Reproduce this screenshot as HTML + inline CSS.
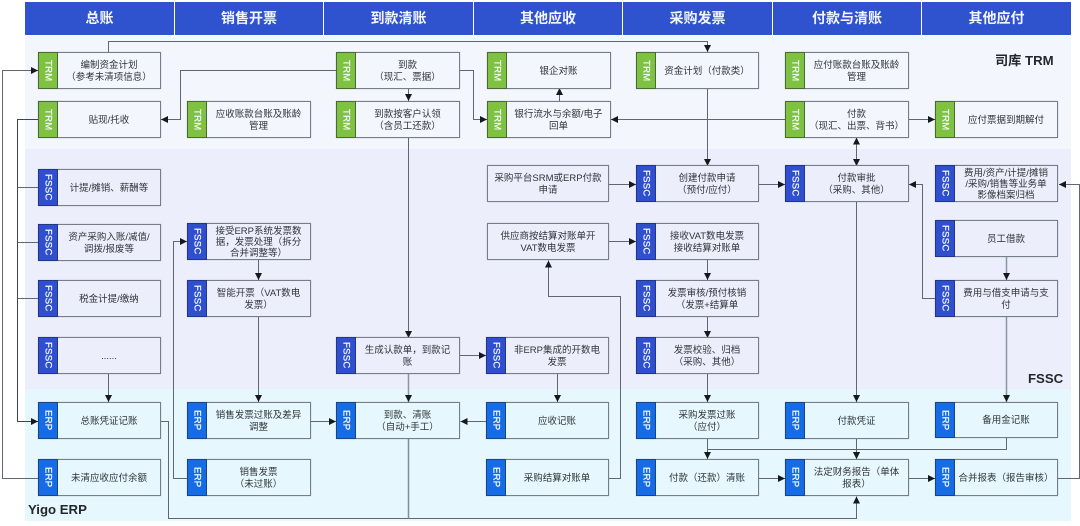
<!DOCTYPE html>
<html lang="zh-CN">
<head>
<meta charset="utf-8">
<title>财务流程图</title>
<style>
html,body{margin:0;padding:0;background:#fff}
#c{position:relative;width:1080px;height:526px;overflow:hidden;background:#fff;font-family:"Liberation Sans","Noto Sans CJK SC",sans-serif;color:#2f333a;filter:blur(.3px)}
.band,.h,.n,.lb,svg{position:absolute}
.h{top:2px;height:33px;background:#2f52cf;color:#f4f6ff;font-size:14px;font-weight:700;line-height:33px;text-align:center}
.n{box-sizing:border-box;border:1px solid #747d88;box-shadow:0 0 .6px #747d88;display:flex;align-items:center;font-size:9.5px;line-height:11.2px;text-align:center;white-space:nowrap}
.n b{flex:0 0 18px;align-self:stretch;display:flex;align-items:center;justify-content:center;color:#f2f8ff;font-size:9.5px;font-weight:400;-webkit-text-stroke:.25px #f2f8ff;writing-mode:vertical-rl;margin:-1px 0 -1px -1px;border:1px solid #3a4a55;box-sizing:content-box;letter-spacing:.3px}
.n span{flex:1;padding-top:2px}
.t b{background:#7fc241;border-color:#4a6a35}
.f b{background:#2f4fcf;border-color:#22358a}
.e b{background:#166ce6;border-color:#1a4585}
.lb{font-size:13.200px;font-weight:700;color:#23272e;white-space:nowrap}
svg{left:0;top:0}
</style>
</head>
<body>
<div id="c">
<div class="band" style="left:25px;top:36px;width:1046px;height:113px;background:#f3f6fc"></div>
<div class="band" style="left:25px;top:149px;width:1046px;height:240px;background:#eceffb"></div>
<div class="band" style="left:25px;top:389px;width:1046px;height:132px;background:#e6f8fe"></div>

<div class="h" style="left:25px;width:149px">总账</div>
<div class="h" style="left:175px;width:148px">销售开票</div>
<div class="h" style="left:324px;width:149px">到款清账</div>
<div class="h" style="left:474px;width:148px">其他应收</div>
<div class="h" style="left:623px;width:149px">采购发票</div>
<div class="h" style="left:773px;width:148px">付款与清账</div>
<div class="h" style="left:922px;width:149px">其他应付</div>

<svg width="1080" height="526" viewBox="0 0 1080 526" fill="none" stroke="#5f6772" stroke-width="1">
<defs>
<marker id="a" markerUnits="userSpaceOnUse" markerWidth="8" markerHeight="8" refX="7" refY="4" orient="auto-start-reverse"><path d="M0 .5L7 4L0 7.5z" fill="#15181d" stroke="none"/></marker>
</defs>
<g marker-end="url(#a)">
<path d="M108.500 52V41.500H707.500V52"/>
<path d="M336 70.500H180.500V119.500H161"/>
<path d="M460 70.500H473.500V119.500H487"/>
<path d="M408.500 88V101"/>
<path d="M559.500 101V88"/>
<path d="M785 119.500H611"/>
<path d="M908 119.500H935"/>
<path d="M856.500 137.500V166" marker-start="url(#a)"/>
<path d="M707.500 88V166"/>
<path d="M408.500 137V338"/>
<path d="M609 184.500H636"/>
<path d="M759 184.500H785"/>
<path d="M609 241.500H636"/>
<path d="M707.500 260V280"/>
<path d="M707.500 317V338"/>
<path d="M707.500 374V402"/>
<path d="M707.500 439V459"/>
<path d="M856.500 202V402"/>
<path d="M935 298.500H922.500V184.500H909"/>
<path d="M1006.500 257V280" stroke="#8d95a3" stroke-width="1.500"/>
<path d="M1006.500 317V402" stroke="#8d95a3" stroke-width="1.500"/>
<path d="M1058 478.500H1079.500V184.500H1059"/>
<path d="M1006.500 438V449.500H856.500V459"/>
<path d="M856.500 439V459"/>
<path d="M759 478.500H785"/>
<path d="M908 478.500H935"/>
<path d="M160 421.500H168.500V518.500H856.500V496.500"/>
<path d="M609 478.500H620.500V296.500H548.500V260.500"/>
<path d="M486 421.500H460.500"/>
<path d="M557.500 374V402"/>
<path d="M460 355.500H486"/>
<path d="M408.500 374V402" stroke="#8d95a3" stroke-width="1.500"/>
<path d="M310 421.500H336"/>
<path d="M187 478.500H173.500V241.500H187"/>
<path d="M258.500 260V280"/>
<path d="M258.500 317V402"/>
<path d="M108.500 374V402"/>
<path d="M38 478.500H2.500V70.500H38"/>
<path d="M38 119.500H17.500V421.500H38" stroke="#3f444c"/>
</g>
<path d="M408.500 439V518.500" stroke="#7f8f98" stroke-width="1.500"/>
<path d="M856.500 449.500H707.500"/>
<path d="M17.500 187.500H38M17.500 242.500H38M17.500 298.500H38"/>
</svg>

<div class="n t" style="left:38px;top:52px;width:123px;height:37px"><b>TRM</b><span>编制资金计划<br>（参考未清项信息）</span></div>
<div class="n t" style="left:38px;top:101px;width:123px;height:37px"><b>TRM</b><span>贴现/托收</span></div>
<div class="n t" style="left:187px;top:101px;width:124px;height:37px"><b>TRM</b><span>应收账款台账及账龄<br>管理</span></div>
<div class="n t" style="left:336px;top:52px;width:124px;height:37px"><b>TRM</b><span>到款<br>（现汇、票据）</span></div>
<div class="n t" style="left:336px;top:101px;width:124px;height:37px"><b>TRM</b><span>到款按客户认领<br>（含员工还款）</span></div>
<div class="n t" style="left:487px;top:52px;width:124px;height:37px"><b>TRM</b><span>银企对账</span></div>
<div class="n t" style="left:487px;top:101px;width:124px;height:37px"><b>TRM</b><span>银行流水与余额/电子<br>回单</span></div>
<div class="n t" style="left:636px;top:52px;width:123px;height:37px"><b>TRM</b><span>资金计划（付款类）</span></div>
<div class="n t" style="left:785px;top:52px;width:124px;height:37px"><b>TRM</b><span>应付账款台账及账龄<br>管理</span></div>
<div class="n t" style="left:785px;top:101px;width:124px;height:37px"><b>TRM</b><span>付款<br>（现汇、出票、背书）</span></div>
<div class="n t" style="left:935px;top:101px;width:123px;height:37px"><b>TRM</b><span>应付票据到期解付</span></div>

<div class="n f" style="left:38px;top:169px;width:123px;height:37px"><b>FSSC</b><span>计提/摊销、薪酬等</span></div>
<div class="n f" style="left:38px;top:224px;width:123px;height:37px"><b>FSSC</b><span>资产采购入账/减值/<br>调拨/报废等</span></div>
<div class="n f" style="left:38px;top:280px;width:123px;height:37px"><b>FSSC</b><span>税金计提/缴纳</span></div>
<div class="n f" style="left:38px;top:337px;width:123px;height:37px"><b>FSSC</b><span>......</span></div>
<div class="n f" style="left:187px;top:223px;width:124px;height:37px"><b>FSSC</b><span>接受ERP系统发票数<br>据，发票处理（拆分<br>合并调整等）</span></div>
<div class="n f" style="left:187px;top:280px;width:124px;height:37px"><b>FSSC</b><span>智能开票（VAT数电<br>发票）</span></div>
<div class="n f" style="left:336px;top:337px;width:124px;height:37px"><b>FSSC</b><span>生成认款单，到款记<br>账</span></div>
<div class="n" style="left:487px;top:165px;width:122px;height:37px"><span>采购平台SRM或ERP付款<br>申请</span></div>
<div class="n" style="left:487px;top:223px;width:122px;height:37px"><span>供应商按结算对账单开<br>VAT数电发票</span></div>
<div class="n f" style="left:486px;top:337px;width:123px;height:37px"><b>FSSC</b><span>非ERP集成的开数电<br>发票</span></div>
<div class="n f" style="left:636px;top:165px;width:123px;height:37px"><b>FSSC</b><span>创建付款申请<br>（预付/应付）</span></div>
<div class="n f" style="left:636px;top:223px;width:123px;height:37px"><b>FSSC</b><span>接收VAT数电发票<br>接收结算对账单</span></div>
<div class="n f" style="left:636px;top:280px;width:123px;height:37px"><b>FSSC</b><span>发票审核/预付核销<br>（发票+结算单</span></div>
<div class="n f" style="left:636px;top:337px;width:123px;height:37px"><b>FSSC</b><span>发票校验、归档<br>（采购、其他）</span></div>
<div class="n f" style="left:785px;top:165px;width:124px;height:37px"><b>FSSC</b><span>付款审批<br>（采购、其他）</span></div>
<div class="n f" style="left:935px;top:165px;width:123px;height:37px"><b>FSSC</b><span>费用/资产/计提/摊销<br>/采购/销售等业务单<br>影像档案归档</span></div>
<div class="n f" style="left:935px;top:220px;width:123px;height:37px"><b>FSSC</b><span>员工借款</span></div>
<div class="n f" style="left:935px;top:280px;width:123px;height:37px"><b>FSSC</b><span>费用与借支申请与支<br>付</span></div>

<div class="n e" style="left:38px;top:402px;width:123px;height:37px"><b>ERP</b><span>总账凭证记账</span></div>
<div class="n e" style="left:38px;top:459px;width:123px;height:37px"><b>ERP</b><span>未清应收应付余额</span></div>
<div class="n e" style="left:187px;top:402px;width:124px;height:37px"><b>ERP</b><span>销售发票过账及差异<br>调整</span></div>
<div class="n e" style="left:187px;top:459px;width:124px;height:37px"><b>ERP</b><span>销售发票<br>（未过账）</span></div>
<div class="n e" style="left:336px;top:402px;width:124px;height:37px"><b>ERP</b><span>到款、清账<br>（自动+手工）</span></div>
<div class="n e" style="left:486px;top:402px;width:123px;height:37px"><b>ERP</b><span>应收记账</span></div>
<div class="n e" style="left:486px;top:459px;width:123px;height:37px"><b>ERP</b><span>采购结算对账单</span></div>
<div class="n e" style="left:636px;top:402px;width:123px;height:37px"><b>ERP</b><span>采购发票过账<br>（应付）</span></div>
<div class="n e" style="left:636px;top:459px;width:123px;height:37px"><b>ERP</b><span>付款（还款）清账</span></div>
<div class="n e" style="left:785px;top:402px;width:124px;height:37px"><b>ERP</b><span>付款凭证</span></div>
<div class="n e" style="left:785px;top:459px;width:124px;height:37px"><b>ERP</b><span>法定财务报告（单体<br>报表）</span></div>
<div class="n e" style="left:935px;top:402px;width:123px;height:36px"><b>ERP</b><span>备用金记账</span></div>
<div class="n e" style="left:935px;top:459px;width:123px;height:37px"><b>ERP</b><span>合并报表（报告审核）</span></div>

<div class="lb" style="left:995px;top:50px">司库 TRM</div>
<div class="lb" style="left:1028px;top:371px">FSSC</div>
<div class="lb" style="left:28px;top:502px">Yigo ERP</div>
</div>
</body>
</html>
